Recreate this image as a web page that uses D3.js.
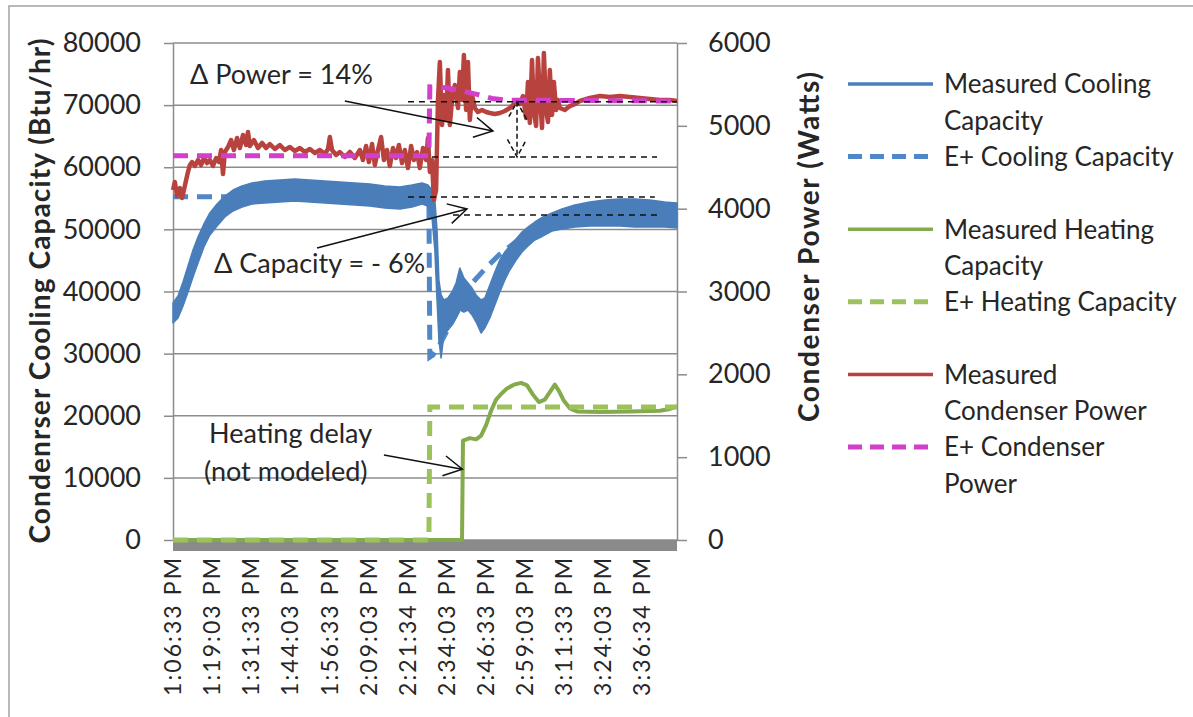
<!DOCTYPE html>
<html><head><meta charset="utf-8">
<script src="https://cdn.jsdelivr.net/npm/d3@7"></script>
<style>body{margin:0;background:#fff} text{font-family:Lato,"Open Sans",sans-serif;fill:#262626}</style>
</head><body><svg id="c" width="1193" height="717"></svg>
<script>
// ---------------- DATA ----------------
// x values: minutes elapsed since 1:06:33 PM
const timeLabels = ["1:06:33 PM","1:19:03 PM","1:31:33 PM","1:44:03 PM","1:56:33 PM","2:09:03 PM","2:21:34 PM","2:34:03 PM","2:46:33 PM","2:59:03 PM","3:11:33 PM","3:24:03 PM","3:36:34 PM"];
const timeTicks = [0,12.5,25,37.5,50,62.5,75.02,87.5,100,112.5,125,137.5,150.02];
const leftTicks = [0,10000,20000,30000,40000,50000,60000,70000,80000];
const rightTicks = [0,1000,2000,3000,4000,5000,6000];
const seriesNames = ["Measured Cooling Capacity","E+ Cooling Capacity","Measured Heating Capacity","E+ Heating Capacity","Measured Condenser Power","E+ Condenser Power"];
const legendLines = [["Measured Cooling","Capacity"],["E+ Cooling Capacity"],["Measured Heating","Capacity"],["E+ Heating Capacity"],["Measured","Condenser Power"],["E+ Condenser","Power"]];

// Measured cooling capacity (Btu/hr): noisy signal given as upper / lower envelope
const measCoolTime = [0,1.6,3.2,4.8,6.4,8.0,9.9,11.8,14.1,16.6,19.2,22.1,25.3,29.4,34.2,39.0,43.8,48.6,53.4,58.2,63.0,67.8,72.6,76.5,79.7,81.6,82.9,83.8,84.5,85.1,85.8,86.7,88.0,89.3,90.6,91.8,93.1,94.4,95.7,97.0,98.6,99.8,101.4,103.0,104.6,106.2,107.8,109.8,111.7,113.6,115.8,118.4,121.3,124.5,128.6,133.4,138.2,143.0,147.8,152.6,157.4,161.3];
const measCoolHigh = [38150,39280,41530,44110,46680,48770,50870,52640,54090,55370,56340,56980,57470,57790,57950,58110,57950,57790,57630,57470,57310,56980,56820,57150,57470,57150,56340,54730,49900,41850,39440,38630,38960,39920,41370,43780,42180,41370,40560,39440,38630,38960,41050,43140,45070,46360,47330,48450,49580,50380,51190,51990,52640,53280,53930,54410,54730,54890,54890,54730,54410,54250];
const measCoolLow = [34930,35740,37670,39920,42340,44590,47160,49100,50540,51990,52960,53600,54090,54250,54410,54570,54410,54250,54090,53930,53770,53440,53280,53600,54090,53770,51830,46680,38630,32190,29300,33000,33800,34610,35740,37020,36700,37020,36220,35090,33320,34130,35740,37830,39920,41850,43460,45070,46360,47330,48290,48940,49740,50060,50380,50540,50540,50540,50380,50380,50380,50220];

// E+ cooling capacity (Btu/hr)
const epCoolTime = [0,81.9,82.2,83.2,85.4,90.2,96.0,100.5,104.6,111.0,117.4,123.8,136.6,161.3];
const epCoolValues = [55270,55270,29460,29800,31500,36000,41500,44000,46000,48500,50000,50800,51300,51500];

// Measured heating capacity (Btu/hr)
const measHeatTime = [0,92.5,92.8,95.0,97.0,98.6,100.2,101.8,103.4,105.0,106.9,109.1,111.4,113.3,115.2,117.1,119.0,120.6,122.2,123.5,125.1,127.0,129.3,136.6,146.2,155.8,159.0,161.3];
const measHeatValues = [0,0,16000,16400,16200,16800,18500,20800,22600,23500,24400,25000,25300,24900,23400,22200,22600,23800,25000,24000,22400,21200,20700,20600,20700,20800,21100,21500];

// E+ heating capacity (Btu/hr)
const epHeatTime = [0,81.9,82.2,161.3];
const epHeatValues = [0,0,21400,21400];

// Measured condenser power (W)
const measPowerTime = [0,0.6,1.3,2.2,2.9,3.5,4.2,4.8,5.4,6.1,7.0,8.0,9.0,9.9,10.9,11.8,12.8,13.8,14.7,15.4,16.0,16.6,17.6,18.6,19.5,20.5,21.4,22.4,23.4,24.0,24.6,25.9,27.2,28.5,29.8,31.0,32.6,34.2,35.8,37.4,39.0,40.6,42.2,43.8,45.4,47.0,48.6,49.6,50.2,50.9,52.2,53.4,55.0,56.6,58.2,59.8,60.8,61.8,62.7,63.7,64.6,65.6,66.6,67.5,68.5,69.4,70.4,71.4,72.3,73.3,74.2,75.2,76.2,77.1,78.1,79.0,80.0,81.0,81.6,82.2,82.9,83.5,84.2,84.8,85.4,86.1,86.7,87.4,88.0,88.6,89.3,90.2,91.2,91.8,92.5,93.1,93.8,94.4,95.0,95.7,96.6,97.6,98.9,100.2,101.4,103.0,104.6,106.2,107.8,109.1,110.1,111.0,112.0,113.0,113.6,114.2,114.9,115.5,116.2,116.8,117.4,118.1,118.7,119.4,120.0,120.6,121.3,121.9,122.6,123.2,123.8,125.4,127.0,128.6,130.2,133.4,136.6,139.8,143.0,146.2,149.4,152.6,155.8,159.0,161.3];
const measPowerValues = [4225,4322,4153,4249,4129,4225,4346,4443,4527,4563,
4515,4587,4527,4612,4551,4587,4515,4612,4563,4708,
4418,4684,4744,4829,4708,4853,4732,4889,4768,4925,
4756,4829,4732,4793,4732,4780,4720,4768,4708,4744,
4696,4732,4684,4720,4672,4708,4660,4720,4865,4708,
4648,4684,4624,4684,4612,4708,4587,4756,4563,4780,
4527,4708,4865,4587,4708,4515,4732,4612,4768,4551,
4708,4491,4756,4587,4684,4491,4732,4587,4853,4443,
4587,4104,4225,5312,5770,5010,5372,5070,5674,5010,
5312,5493,5215,5650,5312,5855,5191,5770,5070,5372,
5215,5167,5191,5167,5155,5143,5155,5179,5215,5263,
5300,5263,5360,5094,5529,5034,5795,5167,4998,5819,
5372,4974,5879,5191,5046,5674,5131,5529,5191,5312,
5215,5191,5239,5263,5300,5336,5360,5348,5360,5348,
5336,5324,5312,5312,5300];

// E+ condenser power (W)
const epPowerTime = [0,81.9,82.2,87.4,92.5,97.3,102.1,106.9,161.3];
const epPowerValues = [4640,4640,5470,5460,5420,5380,5330,5310,5300];

// ---------------- DRAWING ----------------
const W = 1193, H = 717;
const L = 173, R = 677, T = 43, B = 540;
const FONT = "Lato, 'Open Sans', sans-serif";
const AXIS = "#8c8c8c";
const C = {
  measCool: "#4a7ebb", epCool: "#4f87c9",
  measHeat: "#83aa4b", epHeat: "#9cc35b",
  measPow: "#b8433e", epPow: "#d23fcc"
};
const DASH = "15,9";

const svg = d3.select("#c");
const x = d3.scaleLinear().domain([0, 161.3]).range([L, R]);
const yL = d3.scaleLinear().domain([0, 80000]).range([B, T]);
const yR = d3.scaleLinear().domain([0, 6000]).range([B, T]);

svg.append("rect").attr("width", W).attr("height", H).attr("fill", "#fff");
svg.append("rect").attr("x", 9).attr("y", 6).attr("width", W + 20).attr("height", H + 20)
  .attr("fill", "none").attr("stroke", "#a3a3a3").attr("stroke-width", 1.5);

// gridlines
svg.append("g").selectAll("line").data(leftTicks).join("line")
  .attr("x1", L).attr("x2", R).attr("y1", d => yL(d)).attr("y2", d => yL(d))
  .attr("stroke", AXIS).attr("stroke-width", 1.5);

// grey band under category axis
svg.append("rect").attr("x", L).attr("y", B).attr("width", R - L).attr("height", 11).attr("fill", "#8a8a8a");

function styleAxis(g) {
  g.attr("font-family", null).attr("font-size", null);
  g.select(".domain").attr("stroke", AXIS).attr("stroke-width", 1.5);
  g.selectAll(".tick line").attr("stroke", AXIS).attr("stroke-width", 1.5);
  g.selectAll(".tick text").attr("font-family", FONT).attr("font-size", 27).attr("fill", "#262626");
}
const gl = svg.append("g").attr("transform", `translate(${L},0)`)
  .call(d3.axisLeft(yL).tickValues(leftTicks).tickSize(9).tickSizeOuter(0).tickPadding(23).tickFormat(d3.format("d")));
styleAxis(gl);
const gr = svg.append("g").attr("transform", `translate(${R},0)`)
  .call(d3.axisRight(yR).tickValues(rightTicks).tickSize(10).tickSizeOuter(0).tickPadding(21).tickFormat(d3.format("d")));
styleAxis(gr);

// category labels
svg.append("g").selectAll("text").data(timeTicks).join("text")
  .attr("transform", d => `translate(${x(d)},558) rotate(-90)`)
  .attr("text-anchor", "end").attr("dy", "0.36em")
  .attr("font-size", 23).attr("textLength", 138).attr("lengthAdjust", "spacing")
  .text((d, i) => timeLabels[i]);

// axis titles
svg.append("text").attr("transform", "translate(40,291) rotate(-90)")
  .attr("text-anchor", "middle").attr("dy", "0.36em").attr("font-weight", "bold").attr("font-size", 28)
  .attr("textLength", 505).attr("lengthAdjust", "spacing")
  .text("Condenrser Cooling Capacity (Btu/hr)");
svg.append("text").attr("transform", "translate(809,247) rotate(-90)")
  .attr("text-anchor", "middle").attr("dy", "0.36em").attr("font-weight", "bold").attr("font-size", 28)
  .attr("textLength", 350).attr("lengthAdjust", "spacing")
  .text("Condenser Power (Watts)");

// series helpers
const idx = arr => d3.range(arr.length);
function linePath(ts, vs, ys) {
  return d3.line().x(i => x(ts[i])).y(i => ys(vs[i]))(idx(ts));
}
const plot = svg.append("g");

// E+ cooling (behind measured)
plot.append("path").attr("d", linePath(epCoolTime, epCoolValues, yL))
  .attr("fill", "none").attr("stroke", C.epCool).attr("stroke-width", 5).attr("stroke-dasharray", DASH);

// measured cooling band
plot.append("path")
  .attr("d", d3.area().x(i => x(measCoolTime[i])).y0(i => yL(measCoolLow[i])).y1(i => yL(measCoolHigh[i]))(idx(measCoolTime)))
  .attr("fill", C.measCool).attr("stroke", C.measCool).attr("stroke-width", 1.5).attr("stroke-linejoin", "round");

// measured heating
plot.append("path").attr("d", linePath(measHeatTime, measHeatValues, yL))
  .attr("fill", "none").attr("stroke", C.measHeat).attr("stroke-width", 4).attr("stroke-linejoin", "round");
// E+ heating
plot.append("path").attr("d", linePath(epHeatTime, epHeatValues, yL))
  .attr("fill", "none").attr("stroke", C.epHeat).attr("stroke-width", 5).attr("stroke-dasharray", DASH);

// measured power
plot.append("path").attr("d", linePath(measPowerTime, measPowerValues, yR))
  .attr("fill", "none").attr("stroke", C.measPow).attr("stroke-width", 4.5).attr("stroke-linejoin", "round");
// E+ power
plot.append("path").attr("d", linePath(epPowerTime, epPowerValues, yR))
  .attr("fill", "none").attr("stroke", C.epPow).attr("stroke-width", 5).attr("stroke-dasharray", DASH);

// ---------------- ANNOTATIONS ----------------
const ann = svg.append("g").attr("stroke", "#111").attr("fill", "none").attr("stroke-width", 1.5);
function hdash(t1, t2, yPix) {
  ann.append("line").attr("x1", x(t1)).attr("x2", x(t2)).attr("y1", yPix).attr("y2", yPix).attr("stroke-dasharray", "6,5");
}
function head(x1, y1, x2, y2, len, spread, dash) {
  const a = Math.atan2(y2 - y1, x2 - x1);
  const p = [a + Math.PI - spread, a + Math.PI + spread].map(b => [x2 + len * Math.cos(b), y2 + len * Math.sin(b)]);
  const h = ann.append("path").attr("d", `M${p[0][0]},${p[0][1]}L${x2},${y2}L${p[1][0]},${p[1][1]}`);
  if (dash) h.attr("stroke-dasharray", "5,3");
}
function arrow(x1, y1, x2, y2, len, spread) {
  ann.append("line").attr("x1", x1).attr("y1", y1).attr("x2", x2).attr("y2", y2);
  head(x1, y1, x2, y2, len, spread, false);
}
// power levels
hdash(75.2, 161.3, yR(5290));
hdash(82.9, 154.9, yR(4625));
// double arrow
{
  const xa = x(110.1), ya = yR(5290), yb = yR(4625);
  ann.append("line").attr("x1", xa).attr("x2", xa).attr("y1", ya).attr("y2", yb).attr("stroke-dasharray", "5,3");
  head(xa, yb, xa, ya, 20, 0.5, true);
  head(xa, ya, xa, yb, 20, 0.5, true);
}
arrow(x(55.0), yR(5300), x(102.4), yR(4937), 21, 0.5);
// capacity levels
hdash(75.2, 154.2, yL(55210));
hdash(89.6, 155.8, yL(52315));
arrow(x(46.1), yL(47000), x(94.1), yL(53280), 21, 0.5);
// heating delay arrow
arrow(x(67.5), yL(13680), x(92.6), yL(11400), 21, 0.5);

const notes = [
  {t: "\u0394 Power = 14%", x: 190, y: 74},
  {t: "\u0394 Capacity = - 6%", x: 214, y: 263},
  {t: "Heating delay", x: 209, y: 433},
  {t: "(not modeled)", x: 204, y: 471}
];
svg.append("g").selectAll("text").data(notes).join("text")
  .attr("x", d => d.x).attr("y", d => d.y).attr("dy", "0.36em").attr("font-size", 27).text(d => d.t);

// ---------------- LEGEND ----------------
const legendStyles = [
  {c: C.measCool, dash: false}, {c: C.epCool, dash: true},
  {c: C.measHeat, dash: false}, {c: C.epHeat, dash: true},
  {c: C.measPow, dash: false}, {c: C.epPow, dash: true}
];
const rowY = k => 84 + k * 36.3;
const lg = svg.append("g");
seriesNames.forEach((name, i) => {
  const r0 = i * 2;
  const st = legendStyles[i];
  lg.append("line").attr("x1", 848).attr("x2", 933).attr("y1", rowY(r0)).attr("y2", rowY(r0))
    .attr("stroke", st.c).attr("stroke-width", st.dash ? 5 : 3.5)
    .attr("stroke-dasharray", st.dash ? "14,8" : null);
  legendLines[i].forEach((ln, j) => {
    lg.append("text").attr("x", 944).attr("y", rowY(r0 + j)).attr("dy", "0.36em")
      .attr("font-size", 26).text(ln);
  });
});
</script>
</body></html>
